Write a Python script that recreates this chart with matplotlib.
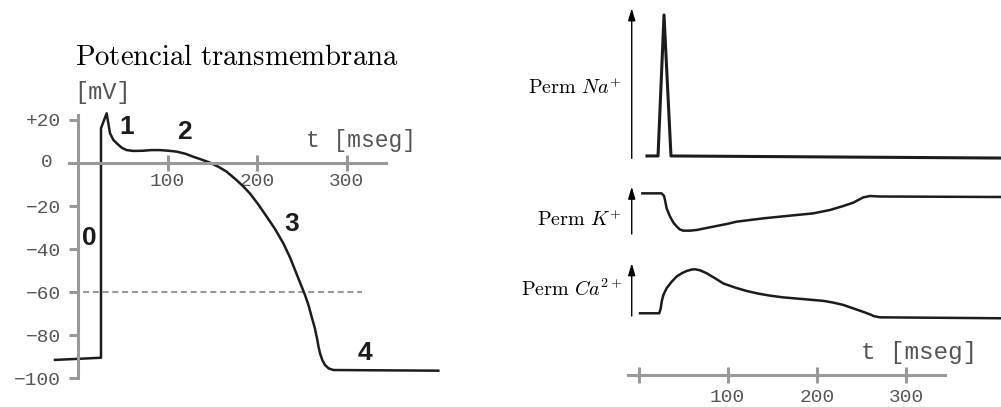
import matplotlib
matplotlib.use("Agg")
import matplotlib.pyplot as plt

plt.rcParams["mathtext.fontset"] = "cm"

# ---------------- data ----------------
# Transmembrane action potential (time in ms, potential in mV)
ap_time = [-25.7, 25.7, 25.7, 32.0, 33.9, 35.8, 39.5, 43.2, 48.8, 54.4, 62.0,
           72.7, 82.0, 91.6, 101.0, 110.0, 120.0, 128.8, 138.0, 147.5, 157.0,
           166.0, 177.0, 185.0, 192.0, 201.0, 210.8, 220.0, 229.4, 237.0,
           244.0, 249.0, 253.6, 257.5, 261.0, 264.5, 267.4, 268.8, 270.4,
           273.0, 276.0, 280.0, 285.3, 402.6]
ap_mv = [-91.5, -90.5, 16.1, 23.1, 18.4, 13.8, 10.7, 9.2, 7.1, 6.0, 5.6,
         5.7, 6.0, 6.0, 5.7, 5.3, 4.3, 2.9, 1.6, 0.15, -1.8,
         -4.0, -7.9, -11.0, -14.1, -19.0, -24.9, -30.6, -37.3, -44.0,
         -51.3, -56.5, -61.3, -66.0, -71.4, -76.5, -82.2, -85.5, -88.4,
         -91.6, -93.9, -95.4, -96.2, -96.5]
threshold_mv = -60
threshold_span = [5.6, 317.0]
mv_ticks = [20, -20, -40, -60, -80, -100]
mv_tick_labels = ["+20", "\u221220", "\u221240", "\u221260", "\u221280", "\u2212100"]
ms_ticks = [100, 200, 300]
ms_tick_labels = ["100", "200", "300"]
phase_names = ["0", "1", "2", "3", "4"]
phase_time = [12.3, 54.7, 119.0, 239.0, 320.7]
phase_mv = [-34.9, 16.7, 14.4, -28.3, -88.3]

# Relative ion permeabilities (arbitrary units, 0-1)
na_time = [9.5, 21.9, 28.6, 36.4, 406.4]
na_perm = [0.027, 0.027, 0.967, 0.027, 0.013]
k_time = [4.3, 26.0, 28.6, 29.7, 31.6, 35.3, 39.0, 42.8, 46.5, 50.2, 57.7,
          65.2, 83.9, 98.9, 110.1, 125.0, 139.9, 158.6, 177.4, 196.0, 214.7,
          229.6, 240.8, 252.0, 259.5, 270.7, 406.4]
k_perm = [0.853, 0.853, 0.80, 0.72, 0.55, 0.39, 0.27, 0.19, 0.13, 0.107, 0.107,
          0.12, 0.187, 0.24, 0.287, 0.32, 0.353, 0.387, 0.42, 0.453, 0.52,
          0.60, 0.667, 0.773, 0.80, 0.79, 0.78]
ca_time = [1.7, 23.3, 24.9, 26.0, 27.8, 31.6, 37.2, 42.8, 48.4, 54.0, 59.6,
           63.3, 69.0, 76.5, 85.8, 95.1, 108.2, 121.3, 134.3, 147.4, 162.3,
           177.4, 192.3, 207.2, 218.4, 229.6, 240.8, 252.0, 261.4, 263.2,
           270.7, 406.4]
ca_perm = [0.116, 0.116, 0.20, 0.315, 0.43, 0.55, 0.66, 0.75, 0.805, 0.845, 0.87,
           0.875, 0.857, 0.805, 0.72, 0.63, 0.56, 0.50, 0.455, 0.42, 0.39,
           0.37, 0.35, 0.33, 0.30, 0.26, 0.20, 0.14, 0.086, 0.069,
           0.046, 0.03]
perm_labels = [r"$\mathrm{Perm}\ Na^{+}$", r"$\mathrm{Perm}\ K^{+}$",
               r"$\mathrm{Perm}\ Ca^{2+}$"]
time_ticks = [0, 100, 200, 300]
time_tick_labels = ["", "100", "200", "300"]

# ---------------- layout helpers ----------------
W, H = 1001, 407
fig = plt.figure(figsize=(W / 100, H / 100), dpi=100)

AXIS_GRAY = "#999999"
LABEL_GRAY = "#555555"
INK = "#1c1c1c"
MONO = "Liberation Mono"


def px_axes(x0, x1, y_top, y_bot, ox, sx, oy, sy):
    """Axes on a pixel box; data maps to x = ox + sx*d, y = oy - sy*d."""
    ax = fig.add_axes([x0 / W, 1 - y_bot / H, (x1 - x0) / W, (y_bot - y_top) / H])
    ax.set_xlim((x0 - ox) / sx, (x1 - ox) / sx)
    ax.set_ylim((oy - y_bot) / sy, (oy - y_top) / sy)
    ax.patch.set_visible(False)
    for s in ax.spines.values():
        s.set_visible(False)
    ax.set_xticks([])
    ax.set_yticks([])
    return ax


def ftext(x, y, s, **kw):
    fig.text(x / W, 1 - y / H, s, **kw)


# ---------------- left: action potential ----------------
ax = px_axes(5, 455, 100, 395, 78, 0.895, 163, 2.152)
for side in ("left", "bottom"):
    ax.spines[side].set_visible(True)
    ax.spines[side].set_color(AXIS_GRAY)
    ax.spines[side].set_linewidth(2.2)
ax.spines["left"].set_position(("data", 0))
ax.spines["bottom"].set_position(("data", 0))
ax.spines["left"].set_bounds(-100, 22.3)
ax.spines["bottom"].set_bounds(-10, 344)

ax.set_yticks(mv_ticks, mv_tick_labels)
ax.set_xticks(ms_ticks, ms_tick_labels)
ax.tick_params(axis="y", direction="out", length=6.5, width=2.2, color=AXIS_GRAY,
               labelcolor=LABEL_GRAY, labelsize=14, pad=6)
ax.tick_params(axis="x", direction="inout", length=11.5, width=2.2, color=AXIS_GRAY,
               labelcolor=LABEL_GRAY, labelsize=14, pad=1.5)
for lab in ax.get_xticklabels() + ax.get_yticklabels():
    lab.set_fontfamily(MONO)
ax.text(-27.9, 0, "0", family=MONO, size=14, color=LABEL_GRAY, ha="right", va="center")

ax.plot(threshold_span, [threshold_mv, threshold_mv], color=AXIS_GRAY, lw=1.5,
        linestyle=(0, (2.9, 1.8)))
ax.plot(ap_time, ap_mv, color=INK, lw=1.8, solid_joinstyle="round")
for name, t, v in zip(phase_names, phase_time, phase_mv):
    ax.text(t, v, name, family="Liberation Sans", weight="bold", size=19,
            color=INK, ha="center", va="center")

ftext(75, 65, r"$\mathrm{Potencial\ transmembrana}$", size=20.7, va="baseline")
ftext(74, 92, "[mV]", family=MONO, size=17, color=LABEL_GRAY, va="center")
ftext(306, 140, "t [mseg]", family=MONO, size=16.5, color=LABEL_GRAY, va="center")

# ---------------- right: permeabilities ----------------
RX0, RSX = 638.5, 0.892
ARROW_T = -7.6
panels = [
    (na_time, na_perm, 2, 170, 160, 150, (0.011, 1.011), 2.2, 88),
    (k_time, k_perm, 180, 245, 236, 50, (0.04, 0.986), 1.8, 220),
    (ca_time, ca_perm, 255, 330, 320, 58, (0.069, 0.978), 1.8, 289),
]
for (t, p, ytop, ybot, oy, sy, (a0, a1), lw, ylab), lab in zip(panels, perm_labels):
    pax = px_axes(505, 1001, ytop, ybot, RX0, RSX, oy, sy)
    pax.plot(t, p, color=INK, lw=lw, solid_joinstyle="round")
    pax.annotate("", xy=(ARROW_T, a1), xytext=(ARROW_T, a0),
                 arrowprops=dict(arrowstyle="-|>,head_length=0.6,head_width=0.18",
                                 mutation_scale=12, lw=1.0, color="black",
                                 shrinkA=0, shrinkB=0))
    ftext(622, ylab, lab, size=14.5, ha="right", va="center")

tax = px_axes(505, 1001, 335, 375, RX0, RSX, 375, 40)
tax.spines["bottom"].set_visible(True)
tax.spines["bottom"].set_color(AXIS_GRAY)
tax.spines["bottom"].set_linewidth(2.2)
tax.spines["bottom"].set_bounds(-11.8, 343.6)
tax.set_xticks(time_ticks, time_tick_labels)
tax.tick_params(axis="x", direction="inout", length=11.5, width=2.2, color=AXIS_GRAY,
                labelcolor=LABEL_GRAY, labelsize=14, pad=4.5)
for lab in tax.get_xticklabels():
    lab.set_fontfamily(MONO)
ftext(861, 352, "t [mseg]", family=MONO, size=17.5, color=LABEL_GRAY, va="center")

fig.savefig("out.png", dpi=100)
